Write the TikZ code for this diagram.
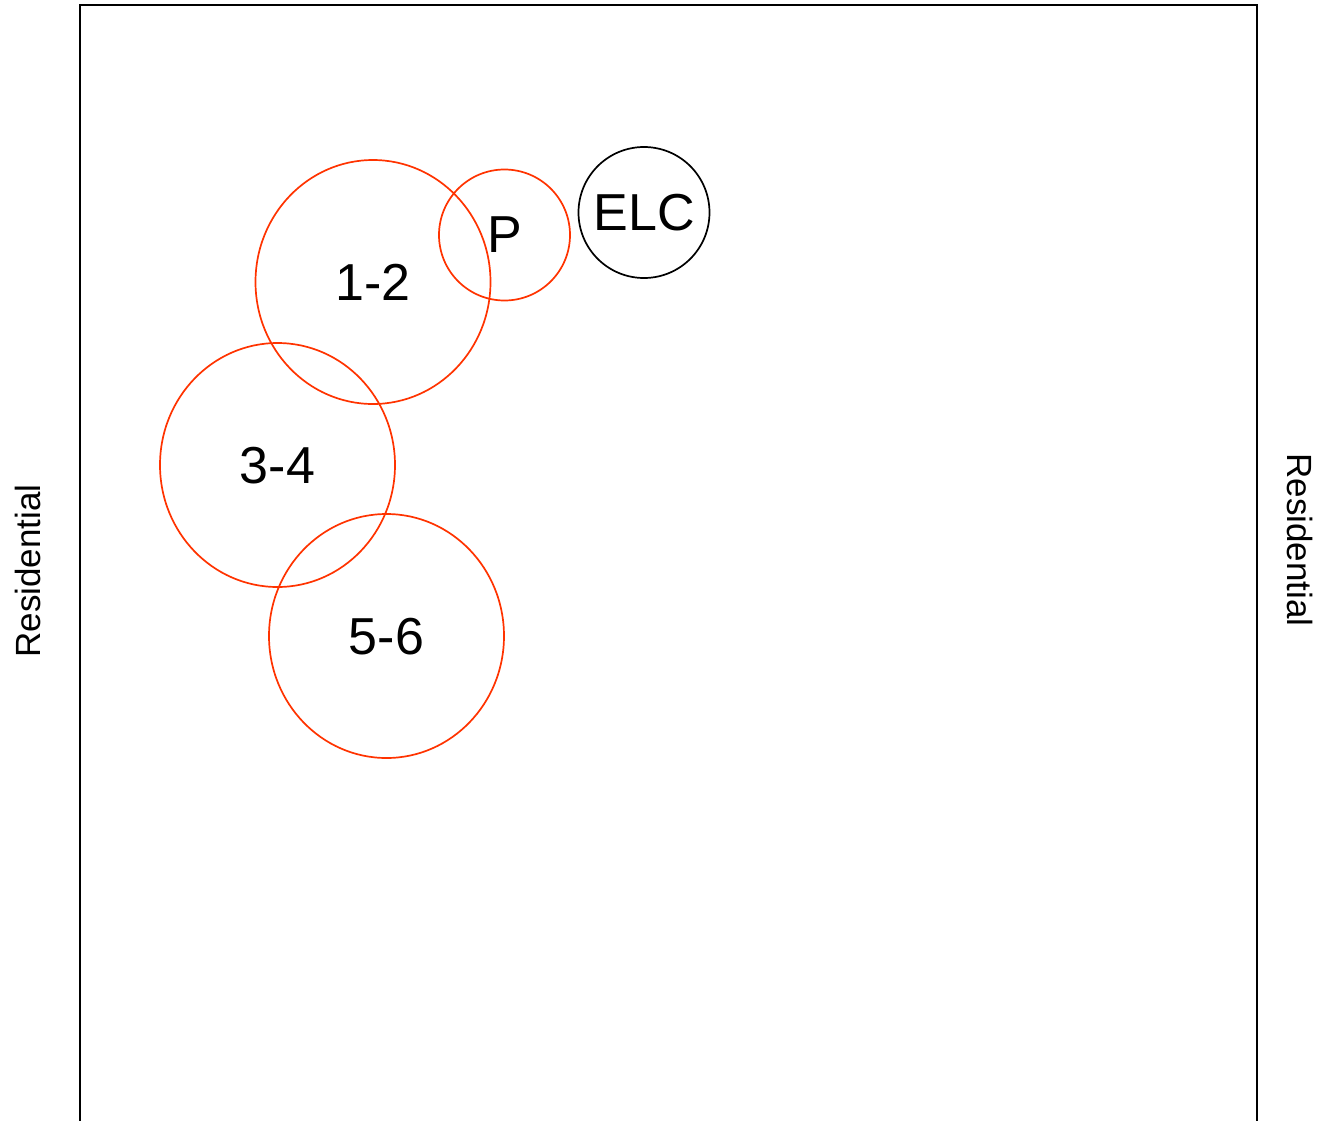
\documentclass[tikz,border=0pt]{standalone}
\usepackage{fontspec}
\setmainfont{Liberation Sans}
\usetikzlibrary{shapes.geometric}
\definecolor{zonered}{HTML}{FF3300}
\begin{document}
\begin{tikzpicture}[x=1pt,y=-1pt,
  zone/.style={draw=zonered,line width=1.7pt,ellipse,inner sep=0pt,
    minimum width=235pt,minimum height=244pt,font=\fontsize{52}{52}\selectfont,
    text depth=-2pt},
  smallzone/.style={draw=zonered,line width=1.7pt,circle,inner sep=0pt,
    minimum size=131pt,font=\fontsize{52}{52}\selectfont,text depth=-2pt},
  elc/.style={draw=black,line width=1.7pt,circle,inner sep=0pt,
    minimum size=131pt,font=\fontsize{52}{52}\selectfont},
  side/.style={font=\fontsize{35}{35}\selectfont,inner sep=0pt}]
  \useasboundingbox (0,0) rectangle (1326,1120);
  % site boundary (open at the bottom)
  \draw[line width=2.2pt] (80,1125) -- (80,5) -- (1257,5) -- (1257,1125);
  % zones
  \node[zone] (z12) at (373,282) {1-2};
  \node[zone] (z34) at (277.5,465) {3-4};
  \node[zone] (z56) at (386.5,636) {5-6};
  \node[smallzone] (p) at (504.5,235) {P};
  \node[elc] (elc) at (644,212.5) {ELC};
  % side labels
  \node[side,rotate=90] (resl) at (28,571) {Residential};
  \node[side,rotate=-90] (resr) at (1300,540) {Residential};
\end{tikzpicture}
\end{document}
